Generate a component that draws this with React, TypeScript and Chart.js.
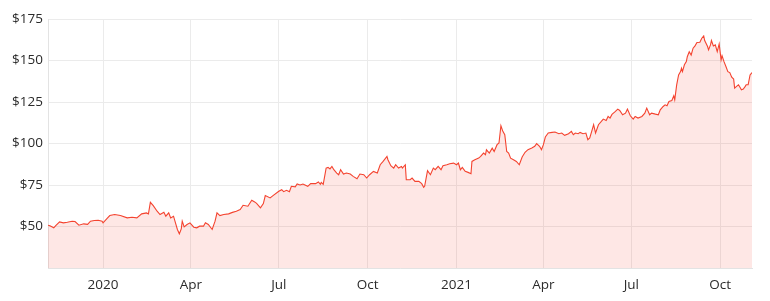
import React, { useEffect, useRef } from "react";
import { Chart, registerables } from "chart.js";

Chart.register(...registerables);

// Days since 2020-01-01
const days: number[] = [
  -57, -55, -51, -49, -45, -41, -37, -32, -29, -25, -20, -16, -13, -9, -5, -1, 0, 4, 7, 12, 18, 25, 30, 35,
  40, 45, 47, 49, 52, 56, 59, 63, 65, 68, 70, 73, 75, 77, 79, 81, 82, 84, 87, 90, 94, 97, 100, 104, 106, 109,
  113, 116, 118, 121, 125, 130, 134, 138, 142, 145, 150, 154, 157, 159, 163, 166, 168, 173, 176, 182, 185, 187,
  190, 193, 195, 199, 201, 204, 207, 212, 215, 220, 223, 225, 226, 228, 231, 233, 235, 237, 239, 242, 244, 246,
  249, 252, 256, 259, 263, 266, 270, 273, 276, 280, 284, 287, 290, 294, 295, 298, 301, 303, 306, 309, 310, 313,
  314, 318, 320, 323, 327, 330, 332, 333, 336, 339, 342, 344, 347, 350, 352, 356, 359, 363, 366, 368, 370, 372,
  375, 378, 381, 382, 385, 389, 391, 394, 396, 397, 400, 403, 405, 408, 410, 412, 414, 416, 418, 420, 422, 425,
  428, 431, 434, 437, 440, 444, 447, 449, 452, 454, 456, 458, 461, 465, 468, 472, 475, 478, 482, 485, 487, 489,
  492, 494, 497, 500, 502, 504, 507, 508, 510, 513, 516, 518, 521, 523, 525, 527, 530, 533, 535, 538, 541, 543,
  546, 549, 551, 554, 558, 561, 563, 566, 568, 572, 575, 577, 580, 582, 584, 586, 589, 591, 592, 594, 596, 598,
  599, 600, 602, 604, 605, 607, 609, 611, 613, 615, 618, 620, 622, 623, 626, 627, 629, 630, 632, 634, 636, 638,
  640, 641, 643, 645, 647, 649, 651, 653, 654, 656, 658, 660, 661, 663, 665, 666, 668, 670, 672,
];

const prices: number[] = [
  50.8, 50.5, 49.2, 50.5, 52.8, 52.2, 52.6, 53.2, 53.0, 50.8, 51.6, 51.3, 53.2, 53.6, 53.8, 53.2, 52.2, 54.8, 56.6, 57.2, 56.6, 55.2, 55.6, 55.2,
  57.6, 58.2, 57.6, 64.6, 62.6, 59.2, 57.2, 58.6, 56.2, 58.2, 55.2, 56.2, 52.2, 48.2, 45.6, 48.6, 53.2, 49.8, 51.2, 52.2, 49.6, 49.2, 50.2, 50.2, 52.2, 51.2,
  48.2, 53.2, 58.2, 56.6, 57.2, 57.6, 58.5, 59.2, 60.2, 62.8, 62.2, 65.8, 64.8, 63.9, 61.2, 63.8, 68.6, 67.2, 68.6, 71.2, 72.2, 71.0,
  71.8, 71.0, 74.2, 73.9, 75.6, 75.0, 75.6, 74.2, 75.8, 75.8, 76.8, 75.4, 76.6, 75.4, 85.2, 85.6, 84.7, 86.2, 84.2, 82.2, 81.2, 84.2,
  81.6, 82.2, 81.6, 80.2, 78.8, 81.6, 81.2, 79.2, 81.2, 83.2, 82.2, 87.2, 89.2, 92.2, 90.2, 86.6, 85.2, 87.2, 85.2, 86.2, 85.2, 87.2,
  78.2, 78.2, 79.2, 77.2, 77.2, 75.8, 73.6, 74.2, 83.6, 81.2, 85.2, 84.2, 86.2, 84.2, 86.6, 87.2, 87.8, 88.2, 87.2, 88.2, 84.2, 85.6,
  83.2, 82.6, 81.8, 89.2, 90.2, 91.2, 92.2, 94.2, 93.2, 96.2, 94.2, 97.2, 95.2, 99.3, 100.3, 110.7, 107.3, 105.3, 95.2, 94.2, 91.2, 90.2,
  89.2, 87.2, 91.9, 94.7, 96.3, 97.3, 98.3, 99.9, 98.3, 96.3, 99.3, 103.9, 106.3, 106.7, 106.9, 105.9, 106.3, 104.9, 105.9, 107.3, 105.3, 106.3,
  105.9, 106.7, 105.9, 106.3, 102.3, 103.3, 109.3, 111.3, 106.3, 111.3, 113.3, 114.7, 113.9, 116.3, 115.3, 117.5, 119.0, 120.7, 119.9, 117.3, 118.3, 120.7,
  116.7, 114.7, 116.3, 115.3, 116.3, 118.3, 121.3, 117.3, 118.3, 117.7, 117.3, 120.3, 122.3, 123.3, 122.7, 125.3, 125.9, 128.7, 126.3, 135.3, 141.3, 143.3,
  145.3, 143.3, 147.4, 149.3, 152.3, 155.3, 153.3, 157.4, 158.8, 160.8, 161.0, 163.4, 164.8, 162.0, 158.4, 156.4, 159.4, 162.0, 158.8, 159.4, 155.4, 160.0,
  150.4, 152.8, 149.3, 146.4, 143.3, 142.7, 140.0, 138.8, 133.4, 134.4, 135.4, 133.4, 132.4, 132.8, 134.4, 135.4, 135.4, 141.3, 142.7,
];

const tickDays: number[] = [0, 91, 182, 274, 366, 456, 547, 639];
const tickLabels: string[] = ["2020", "Apr", "Jul", "Oct", "2021", "Apr", "Jul", "Oct"];
const yTicks: number[] = [50, 75, 100, 125, 150, 175];

export default function App() {
  const ref = useRef<HTMLCanvasElement | null>(null);
  useEffect(() => {
    if (!ref.current) return;
    const font = { family: "'Open Sans', sans-serif", size: 13.5 };
    const chart = new Chart(ref.current, {
      type: "line",
      data: {
        datasets: [
          {
            data: days.map((d, i) => ({ x: d, y: prices[i] })),
            borderColor: "#f4432f",
            backgroundColor: "rgba(244, 67, 54, 0.13)",
            borderWidth: 1.1,
            pointRadius: 0,
            fill: "start",
            tension: 0,
          },
        ],
      },
      options: {
        animation: false,
        responsive: false,
        maintainAspectRatio: false,
        layout: { padding: { left: 0, right: 18, top: 19, bottom: 0 } },
        plugins: { legend: { display: false }, tooltip: { enabled: false } },
        scales: {
          x: {
            type: "linear",
            min: -57,
            max: 672,
            grid: { color: "#ebebeb", drawTicks: false },
            border: { color: "#e3e3e3" },
            afterFit: (scale: any) => {
              scale.height = 33;
            },
            afterBuildTicks: (scale: any) => {
              scale.ticks = tickDays.map((v) => ({ value: v }));
            },
            ticks: {
              font,
              color: "#2b2b2b",
              padding: 9,
              maxRotation: 0,
              autoSkip: false,
              callback: (v: any) => {
                const i = tickDays.indexOf(Number(v));
                return i >= 0 ? tickLabels[i] : "";
              },
            },
          },
          y: {
            min: 25,
            max: 175,
            grid: { color: "#ebebeb", drawTicks: false },
            border: { color: "#e3e3e3" },
            afterFit: (scale: any) => {
              scale.width = 48;
            },
            afterBuildTicks: (scale: any) => {
              scale.ticks = [25, ...yTicks].map((v) => ({ value: v }));
            },
            ticks: {
              font,
              color: "#2b2b2b",
              padding: 5,
              callback: (v: any) => (Number(v) === 25 ? "" : "$" + v),
            },
          },
        },
      },
    });
    return () => chart.destroy();
  }, []);
  return (
    <div style={{ position: "absolute", left: 0, top: 0, width: 770, height: 301, background: "#fff" }}>
      <canvas ref={ref} width={770} height={301} style={{ width: 770, height: 301 }} />
    </div>
  );
}
